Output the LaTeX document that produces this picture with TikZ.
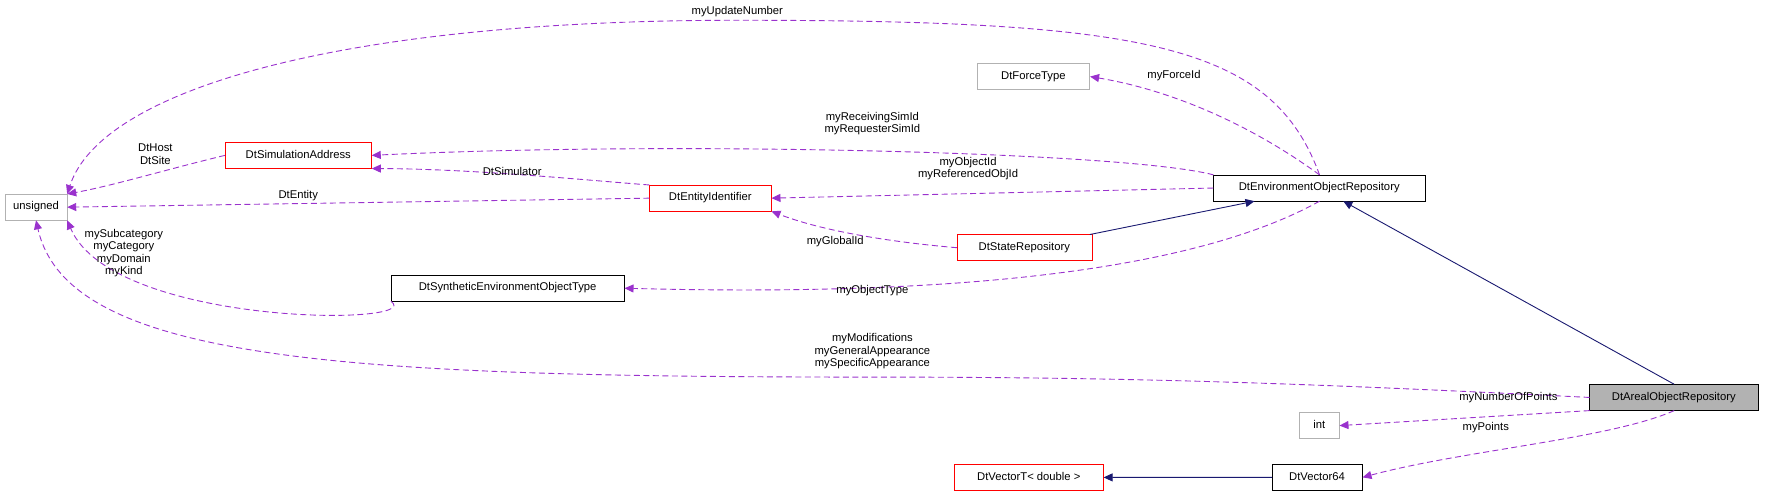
\documentclass[tikz,border=0pt]{standalone}
\usepackage{fontspec}
\setmainfont{Liberation Sans}
\usetikzlibrary{arrows.meta}
\definecolor{usecol}{HTML}{9A32CD}
\definecolor{inhcol}{HTML}{191970}
\tikzset{
  cls/.style={draw=black, fill=white, inner sep=0pt, minimum height=23pt, text height=7pt, text depth=2pt, inner xsep=5pt},
  red cls/.style={cls, draw=red},
  grey cls/.style={cls, draw=black!30},
  use/.style={draw=usecol, line width=0.9pt, dash pattern=on 6pt off 3.5pt, -{Triangle[width=8pt,length=9pt,fill=usecol]}},
  inh/.style={draw=inhcol, line width=0.9pt, -{Triangle[width=8pt,length=9pt,fill=inhcol]}},
  lbl/.style={align=center, inner sep=1pt}
}
\begin{document}
\begin{tikzpicture}[x=1pt, y=-1pt, scale=1.1256, every node/.append style={transform shape}, font=\fontsize{10}{11}\selectfont]
    \useasboundingbox (0,0) rectangle (1568,440);
    % Classes
    \node[grey cls, minimum width=55pt] (Unsigned) at (32,184) {unsigned};
    \node[red cls, minimum width=130pt] (SimAddr) at (265,138) {DtSimulationAddress};
    \node[red cls, minimum width=108pt] (EntityId) at (631,176) {DtEntityIdentifier};
    \node[grey cls, minimum width=100pt] (ForceType) at (918,68) {DtForceType};
    \node[cls, minimum width=188pt] (EnvRepo) at (1172,167) {DtEnvironmentObjectRepository};
    \node[red cls, minimum width=120pt] (StateRepo) at (910,220) {DtStateRepository};
    \node[cls, minimum width=207pt] (SynthType) at (451,256) {DtSyntheticEnvironmentObjectType};
    \node[cls, fill=black!30, minimum width=150pt] (ArealRepo) at (1487,353) {DtArealObjectRepository};
    \node[grey cls, minimum width=35pt] (Int) at (1172,378) {int};
    \node[red cls, minimum width=132pt] (VectorT) at (914,424) {DtVectorT< double >};
    \node[cls, minimum width=80pt] (Vector64) at (1170,424) {DtVector64};
    % Inheritance
    \draw[inh] (StateRepo) -- (EnvRepo);
    \draw[inh] (ArealRepo.north) -- (EnvRepo);
    \draw[inh] (Vector64) -- (VectorT);
    % Members
    \draw[use] (EnvRepo.north) .. controls (1130,40) and (1020,18) .. (655,18)
               .. controls (300,18) and (90,80) .. (Unsigned.north east);
    \draw[use] (EnvRepo.north) .. controls (1110,110) and (1040,80) .. (ForceType.east);
    \draw[use] (EnvRepo.north west) .. controls (1000,135) and (600,125) .. (SimAddr.east);
    \draw[use] (EnvRepo.west) -- (EntityId.east);
    \draw[use] (EnvRepo.south) .. controls (1080,230) and (900,265) .. (SynthType.east);
    \draw[use] (StateRepo.west) .. controls (790,215) and (730,205) .. (EntityId.south east);
    \draw[use] (EntityId.north west) .. controls (520,160) and (420,150) .. (SimAddr.south east);
    \draw[use] (EntityId.west) -- (Unsigned.east);
    \draw[use] (SimAddr.west) .. controls (150,150) and (100,165) .. (Unsigned.north east);
    \draw[use] (SynthType.south west) .. controls (380,290) and (100,290) .. (Unsigned.south east);
    \draw[use] (ArealRepo.west) .. controls (1150,340) and (1000,335) .. (775,335)
               .. controls (300,335) and (60,320) .. (Unsigned.south);
    \draw[use] (ArealRepo.south west) -- (Int.east);
    \draw[use] (ArealRepo.south) .. controls (1430,390) and (1300,400) .. (Vector64.east);
    % Labels
    \node[lbl] (L-update) at (655,10) {myUpdateNumber};
    \node[lbl] (L-force) at (1043,67) {myForceId};
    \node[lbl] (L-sim) at (775,110) {myReceivingSimId\\myRequesterSimId};
    \node[lbl] (L-obj) at (860,150) {myObjectId\\myReferencedObjId};
    \node[lbl] (L-type) at (775,258) {myObjectType};
    \node[lbl] (L-global) at (742,215) {myGlobalId};
    \node[lbl] (L-simulator) at (455,152) {DtSimulator};
    \node[lbl] (L-entity) at (265,174) {DtEntity};
    \node[lbl] (L-host) at (138,137) {DtHost\\DtSite};
    \node[lbl] (L-kind) at (110,225) {mySubcategory\\myCategory\\myDomain\\myKind};
    \node[lbl] (L-mods) at (775,312) {myModifications\\myGeneralAppearance\\mySpecificAppearance};
    \node[lbl] (L-npts) at (1340,353) {myNumberOfPoints};
    \node[lbl] (L-pts) at (1320,380) {myPoints};
\end{tikzpicture}
\end{document}
